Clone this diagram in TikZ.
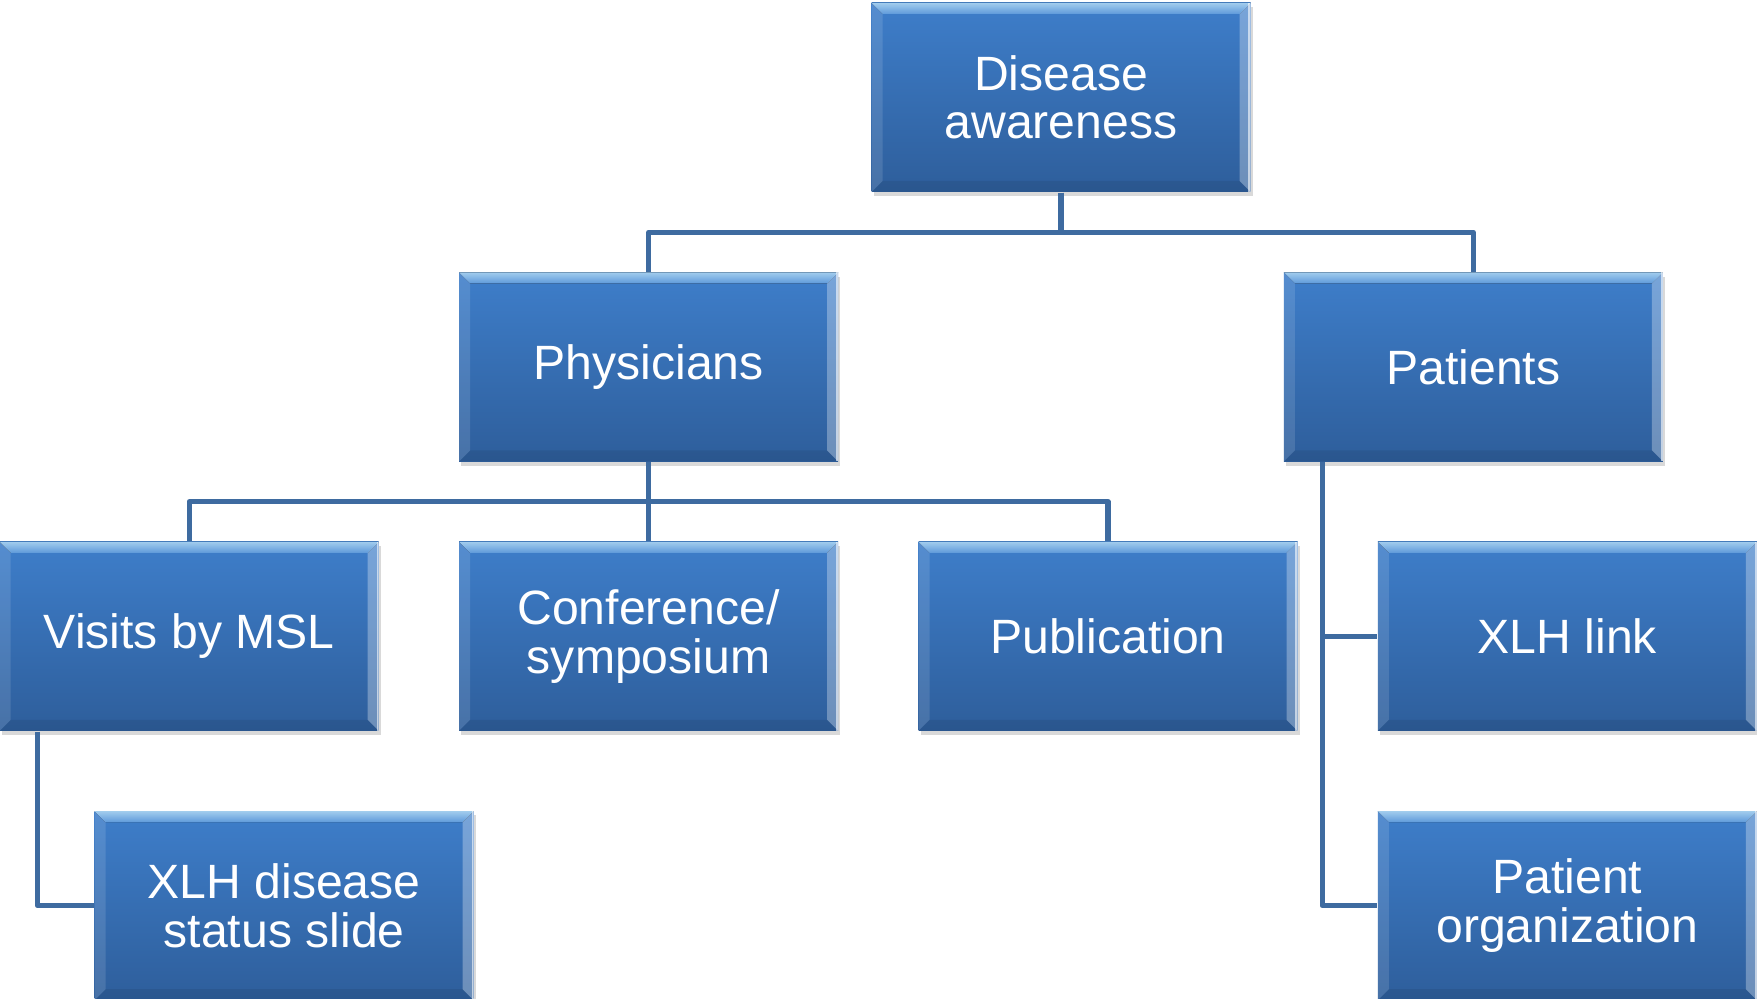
\documentclass[tikz,border=0pt]{standalone}
\usepackage{fontspec}
\setmainfont{Liberation Sans}
\usetikzlibrary{positioning,shadows}
\definecolor{boxtop}{RGB}{62,126,202}
\definecolor{boxbot}{RGB}{46,94,155}
\definecolor{bevtop}{RGB}{170,215,250}
\definecolor{bevmid}{RGB}{100,162,230}
\definecolor{linkcol}{RGB}{62,107,160}
\newcommand\bevw{0.11cm}
\newcommand\bevelbox{%
  \path (path picture bounding box.north west) coordinate (bnw)
        (path picture bounding box.south east) coordinate (bse);
  \fill[top color=bevtop, bottom color=bevmid, opacity=.95]
    (bnw) -- (bse |- bnw) -- ([shift={(-\bevw,-\bevw)}]bse |- bnw)
    -- ([shift={(\bevw,-\bevw)}]bnw) -- cycle;
  \fill[white, opacity=.12]
    (bnw) -- ([shift={(\bevw,-\bevw)}]bnw) -- ([shift={(\bevw,\bevw)}]bnw |- bse)
    -- (bnw |- bse) -- cycle;
  \fill[white, opacity=.3]
    (bse |- bnw) -- (bse) -- ([shift={(-\bevw,\bevw)}]bse)
    -- ([shift={(-\bevw,-\bevw)}]bse |- bnw) -- cycle;
  \fill[black, opacity=.08]
    (bnw |- bse) -- (bse) -- ([shift={(-\bevw,\bevw)}]bse)
    -- ([shift={(\bevw,\bevw)}]bnw |- bse) -- cycle;
  \draw[white, opacity=.6, line width=.6pt]
    ([xshift=-.3pt]bse |- bnw) -- ([xshift=-.3pt]bse);}
\tikzstyle{block} = [rectangle,
                    minimum width=3.79cm,
                    minimum height=1.89cm,
                    inner sep=0pt,
                    align=center,
                    text=white,
                    font=\fontsize{13.7}{13.8}\selectfont,
                    top color=boxtop,
                    bottom color=boxbot,
                    drop shadow={opacity=.3, shadow xshift=.6pt, shadow yshift=-1.2pt},
                    path picture={\bevelbox}]
\tikzstyle{tree} = [node distance=0.79cm,
                   link/.style={draw=linkcol, line width=1.45pt, line join=round}]
\begin{document}
\begin{tikzpicture}[tree]
    \useasboundingbox (0,0) rectangle (17.57,-9.99);
    \node (0) at (10.61,-0.975) [block] {Disease\\awareness};
    \node (1) [below left =0.79cm and 0.32cm of 0] [block] {Physicians};
    \node (2) [below right =0.79cm and 0.32cm of 0] [block] {Patients};
    \node (3) [below =of 1] [block] {Conference/\\symposium};
    \node (4) [left =of 3] [block] {Visits by MSL};
    \node (5) [right =of 3] [block] {Publication};
    \node (6) [below =of 4, xshift=0.95cm] [block] {XLH disease\\status slide};
    \node (7) [right =of 5] [block] {XLH link};
    \node (8) [below =of 7] [block] {Patient\\organization};
    \draw[link] (0.south) -- ++(0,-0.395) -| (1.north);
    \draw[link] (0.south) -- ++(0,-0.395) -| (2.north);
    \draw[link] (1.south) -- (3.north);
    \draw[link] (1.south) -- ++(0,-0.395) -| (4.north);
    \draw[link] (1.south) -- ++(0,-0.395) -| (5.north);
    \draw[link] ([xshift=0.385cm]4.south west) |- (6.west);
    \draw[link] ([xshift=0.39cm]2.south west) |- (7.west);
    \draw[link] ([xshift=0.39cm]2.south west) |- (8.west);
\end{tikzpicture}
\end{document}
